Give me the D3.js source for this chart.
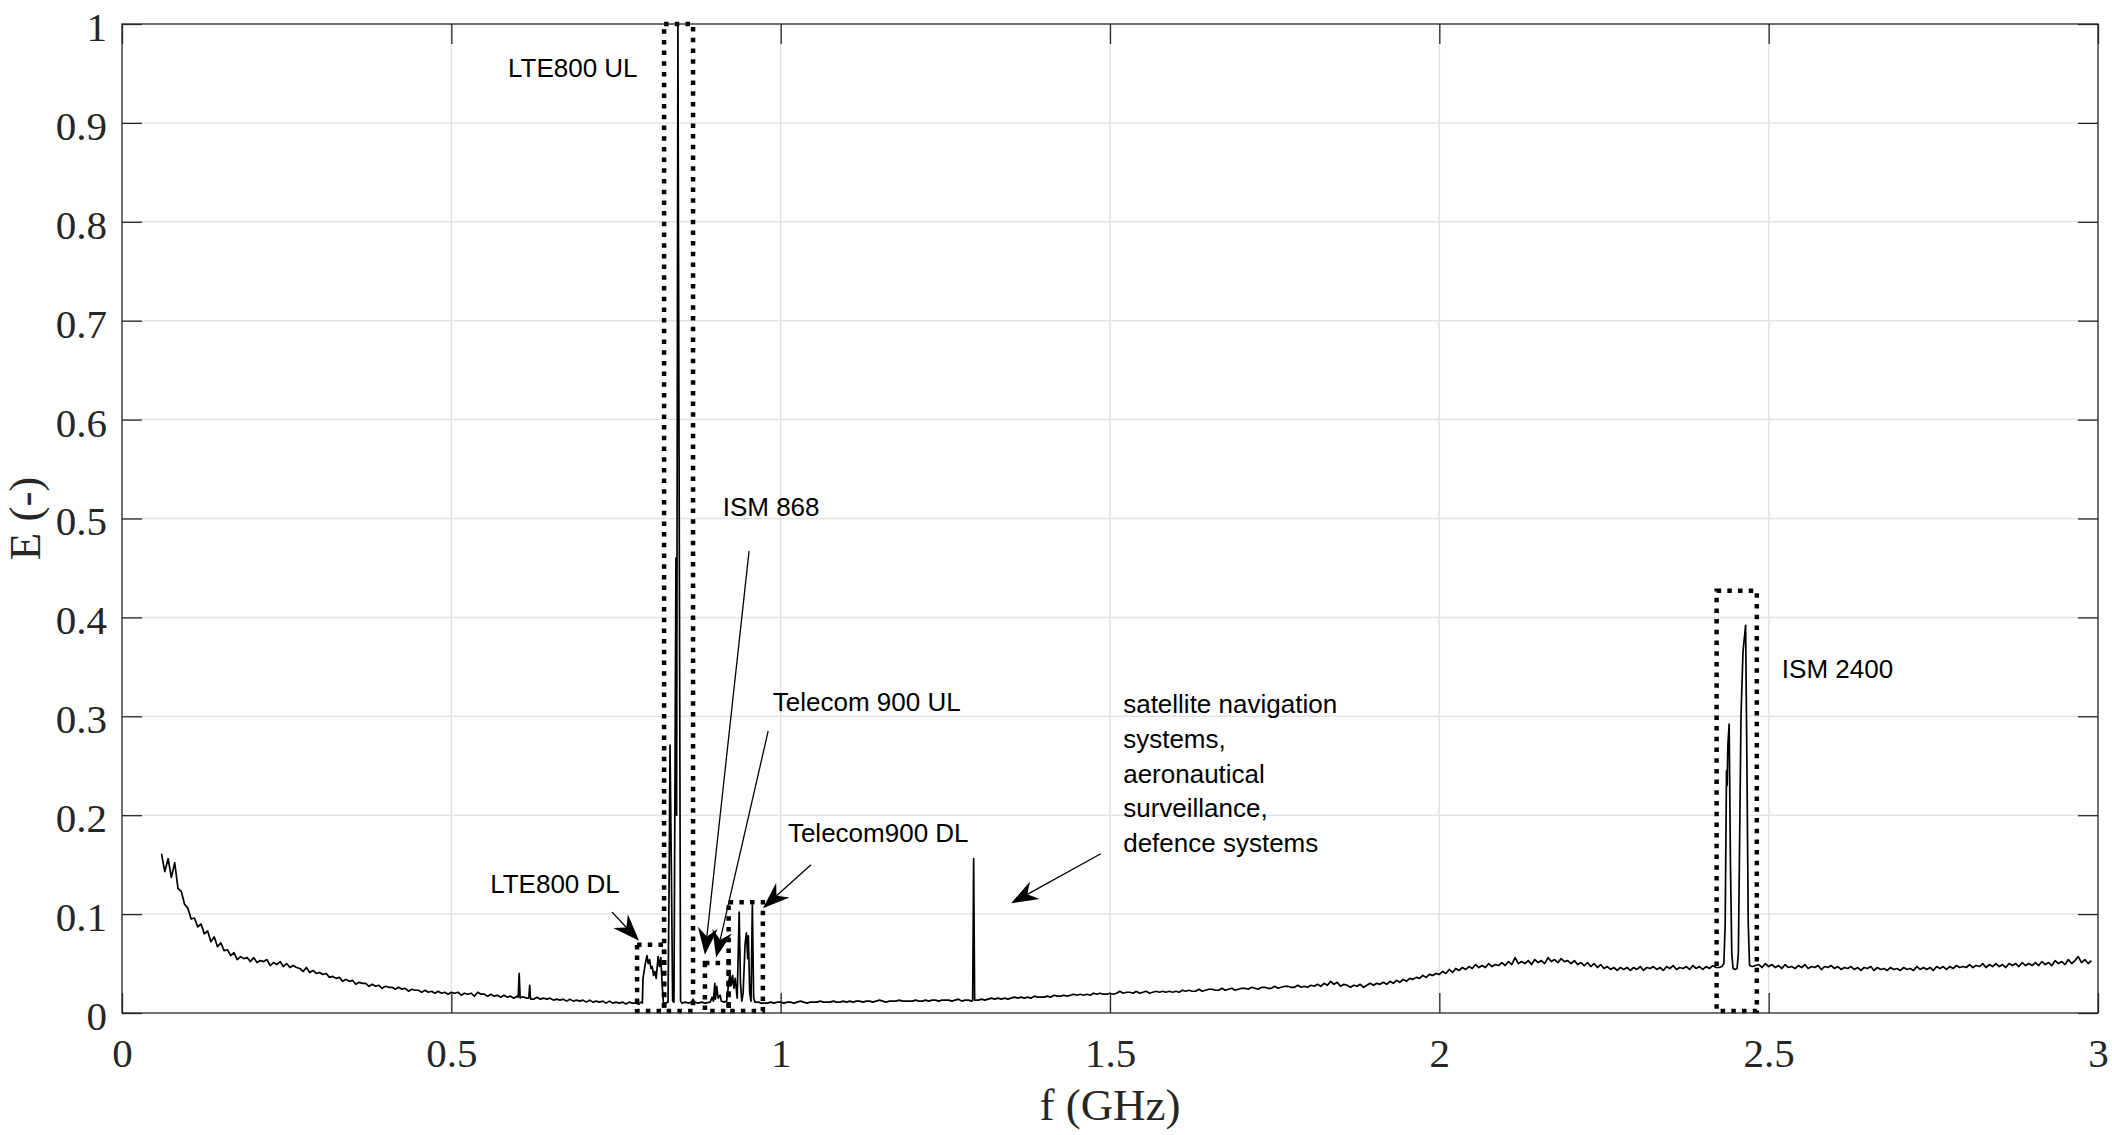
<!DOCTYPE html>
<html>
<head>
<meta charset="utf-8">
<script src="https://cdn.jsdelivr.net/npm/d3@7"></script>
<style>
  body { margin: 0; background: #fff; }
  .tick text { font-family: "Liberation Serif", "Times New Roman", serif; font-size: 41px; fill: #262626; }
  .ann { font-family: "Liberation Sans", Arial, sans-serif; font-size: 26px; fill: #000; }
</style>
</head>
<body>
<div id="chart"></div>
<script>
// tick values
const xTicks = [0, 0.5, 1, 1.5, 2, 2.5, 3];
const yTicks = [0, 0.1, 0.2, 0.3, 0.4, 0.5, 0.6, 0.7, 0.8, 0.9, 1];

// baseline segments, step 0.005 GHz
const stepF = 0.005;
const startA = 0.060;
const baseA = [
  0.161, 0.143, 0.156, 0.137, 0.152, 0.126, 0.123, 0.110,
  0.106, 0.095, 0.096, 0.087, 0.090, 0.080, 0.083, 0.072, 0.077, 0.067, 0.071, 0.063, 0.064, 0.058, 0.061, 0.054, 0.057, 0.055, 0.056, 0.052,
  0.056, 0.051, 0.053, 0.052, 0.054, 0.048, 0.051, 0.049, 0.052, 0.047, 0.050, 0.046, 0.048, 0.046, 0.045, 0.042, 0.046, 0.041, 0.043, 0.040, 0.041, 0.039,
  0.040, 0.036, 0.037, 0.035, 0.036, 0.032, 0.034, 0.032, 0.033, 0.029, 0.031, 0.030, 0.030, 0.027, 0.029, 0.027, 0.028, 0.025, 0.027, 0.026,
  0.026, 0.024, 0.026, 0.024, 0.025, 0.022, 0.024, 0.023, 0.023, 0.021, 0.023, 0.021, 0.022, 0.020, 0.022, 0.020, 0.021, 0.019, 0.021, 0.020,
  0.021, 0.018, 0.020, 0.019, 0.020, 0.017, 0.021, 0.019, 0.019, 0.017, 0.019, 0.017, 0.018, 0.016, 0.018, 0.016, 0.017, 0.015, 0.017, 0.016,
  0.016, 0.015, 0.016, 0.014, 0.016, 0.014, 0.015, 0.014, 0.015, 0.013, 0.014, 0.013, 0.014, 0.012, 0.014, 0.012, 0.013, 0.012, 0.013, 0.011,
  0.013, 0.011, 0.012, 0.011, 0.012, 0.010, 0.012, 0.010, 0.011, 0.010, 0.011, 0.009, 0.011, 0.010, 0.010, 0.009, 0.010
];
const startB = 0.980;
const baseB = [
  0.010, 0.011, 0.010, 0.011,
  0.011, 0.010, 0.011, 0.011, 0.010, 0.011, 0.012, 0.011, 0.010, 0.011, 0.011, 0.011, 0.012, 0.011, 0.011, 0.011, 0.012, 0.011, 0.011, 0.012,
  0.011, 0.012, 0.011, 0.012, 0.012, 0.011, 0.012, 0.012, 0.011, 0.012, 0.013, 0.012, 0.011, 0.012, 0.012, 0.012, 0.013, 0.012, 0.012, 0.012,
  0.012, 0.013, 0.012, 0.012, 0.013, 0.012, 0.013, 0.013, 0.012, 0.013, 0.013, 0.013, 0.012, 0.013, 0.014, 0.012, 0.013, 0.013, 0.012, 0.013,
  0.013, 0.014, 0.013, 0.014, 0.015, 0.014, 0.015, 0.014, 0.015, 0.014, 0.015, 0.016, 0.015, 0.016, 0.015, 0.016, 0.015, 0.017, 0.016, 0.016,
  0.016, 0.017, 0.016, 0.018, 0.017, 0.017, 0.018, 0.017, 0.018, 0.019, 0.018, 0.019, 0.018, 0.019, 0.018, 0.020, 0.019, 0.020, 0.019, 0.019,
  0.020, 0.019, 0.020, 0.022, 0.020, 0.021, 0.021, 0.020, 0.022, 0.020, 0.021, 0.022, 0.020, 0.021, 0.022, 0.021, 0.022, 0.021, 0.022, 0.021,
  0.022, 0.021, 0.023, 0.022, 0.023, 0.022, 0.022, 0.024, 0.022, 0.023, 0.024, 0.024, 0.023, 0.023, 0.025, 0.023, 0.024, 0.025, 0.023, 0.024,
  0.025, 0.025, 0.024, 0.026, 0.025, 0.024, 0.026, 0.026, 0.025, 0.025, 0.027, 0.025, 0.026, 0.027, 0.027, 0.026, 0.026, 0.028, 0.026, 0.027,
  0.026, 0.028, 0.027, 0.029, 0.027, 0.030, 0.028, 0.032, 0.029, 0.031, 0.027, 0.029, 0.028, 0.026, 0.028, 0.027, 0.029, 0.026, 0.028, 0.030,
  0.028, 0.030, 0.029, 0.031, 0.029, 0.032, 0.030, 0.033, 0.031, 0.034, 0.032, 0.035, 0.034, 0.036, 0.035, 0.038, 0.036, 0.039, 0.038, 0.040,
  0.039, 0.042, 0.040, 0.044, 0.041, 0.045, 0.043, 0.046, 0.044, 0.047, 0.045, 0.049, 0.046, 0.048, 0.046, 0.050, 0.047, 0.049, 0.048, 0.051,
  0.048, 0.052, 0.049, 0.056, 0.050, 0.052, 0.050, 0.053, 0.049, 0.054, 0.051, 0.053, 0.050, 0.056, 0.052, 0.054, 0.051, 0.055, 0.052, 0.053,
  0.050, 0.053, 0.049, 0.051, 0.048, 0.051, 0.047, 0.050, 0.046, 0.049, 0.045, 0.047, 0.044, 0.046, 0.043, 0.046, 0.044, 0.046, 0.043, 0.046,
  0.044, 0.047, 0.043, 0.046, 0.045, 0.047, 0.044, 0.046, 0.043, 0.047, 0.045, 0.048, 0.044, 0.046, 0.045, 0.047, 0.044, 0.048, 0.045, 0.047,
  0.044, 0.047, 0.045, 0.048, 0.046
];
const startC = 2.485;
const baseC = [
  0.049, 0.046, 0.050,
  0.047, 0.049, 0.046, 0.048, 0.045, 0.049, 0.046, 0.047, 0.045, 0.048, 0.046, 0.049, 0.045, 0.047, 0.046, 0.048, 0.044, 0.047, 0.046, 0.048,
  0.045, 0.047, 0.044, 0.046, 0.045, 0.047, 0.044, 0.046, 0.043, 0.046, 0.045, 0.047, 0.043, 0.046, 0.044, 0.045, 0.043, 0.046, 0.044, 0.045,
  0.043, 0.046, 0.044, 0.045, 0.043, 0.047, 0.044, 0.046, 0.044, 0.046, 0.043, 0.047, 0.045, 0.047, 0.044, 0.047, 0.045, 0.048, 0.046, 0.047,
  0.046, 0.049, 0.046, 0.048, 0.047, 0.050, 0.046, 0.049, 0.047, 0.050, 0.047, 0.049, 0.046, 0.050, 0.048, 0.050, 0.047, 0.051, 0.048, 0.050,
  0.048, 0.051, 0.048, 0.052, 0.049, 0.051, 0.048, 0.053, 0.050, 0.052, 0.049, 0.054, 0.050, 0.053, 0.057, 0.051, 0.054, 0.050, 0.053
];

// narrow spikes [f, E]
const spikes = [
  [0.6015, 0.016], [0.603, 0.040], [0.6045, 0.015],
  [0.6175, 0.015], [0.619, 0.028], [0.6205, 0.014],
  [1.2915, 0.013], [1.293, 0.156], [1.2945, 0.013]
];

// 790-975 MHz bands [f, E]
const band900 = [
  [0.785, 0.010], [0.789, 0.011], [0.791, 0.035], [0.794, 0.048], [0.797, 0.058], [0.799, 0.050],
  [0.801, 0.054], [0.803, 0.045], [0.805, 0.047], [0.807, 0.038], [0.809, 0.042], [0.811, 0.035],
  [0.813, 0.050], [0.814, 0.057], [0.816, 0.047], [0.818, 0.056], [0.820, 0.030], [0.822, 0.010],
  [0.825, 0.010], [0.829, 0.011], [0.831, 0.160], [0.832, 0.271], [0.834, 0.150], [0.836, 0.012],
  [0.838, 0.011], [0.840, 0.300], [0.841, 0.460], [0.842, 0.200], [0.843, 0.600], [0.844, 1.000],
  [0.846, 0.500], [0.848, 0.012], [0.850, 0.010], [0.855, 0.011], [0.860, 0.010], [0.865, 0.011],
  [0.867, 0.014], [0.869, 0.011], [0.875, 0.010], [0.880, 0.011], [0.885, 0.010], [0.893, 0.011],
  [0.896, 0.016], [0.898, 0.012], [0.900, 0.030], [0.901, 0.014], [0.903, 0.027], [0.905, 0.015],
  [0.908, 0.018], [0.910, 0.012], [0.914, 0.011], [0.918, 0.012], [0.921, 0.030], [0.923, 0.040],
  [0.925, 0.028], [0.927, 0.038], [0.929, 0.025], [0.931, 0.035], [0.934, 0.015], [0.937, 0.102],
  [0.939, 0.030], [0.941, 0.012], [0.943, 0.020], [0.946, 0.070], [0.948, 0.081], [0.950, 0.055],
  [0.951, 0.078], [0.953, 0.020], [0.955, 0.012], [0.957, 0.109], [0.959, 0.015], [0.961, 0.011],
  [0.966, 0.011], [0.971, 0.010], [0.975, 0.010]
];

// 2.4 GHz band [f, E]
const band2400 = [
  [2.425, 0.046], [2.429, 0.047], [2.432, 0.050], [2.434, 0.090], [2.436, 0.245], [2.437, 0.230],
  [2.438, 0.270], [2.440, 0.292], [2.442, 0.150], [2.444, 0.060], [2.446, 0.045], [2.449, 0.044],
  [2.452, 0.045], [2.454, 0.060], [2.456, 0.180], [2.458, 0.300], [2.461, 0.365], [2.462, 0.372],
  [2.465, 0.392], [2.467, 0.250], [2.469, 0.090], [2.471, 0.048], [2.475, 0.047], [2.480, 0.048]
];

// dotted boxes [f0, f1, Etop]
const boxes = [
  [0.782, 0.823, 0.069],
  [0.823, 0.867, 1.0],
  [0.885, 0.921, 0.0505],
  [0.921, 0.973, 0.112],
  [2.421, 2.482, 0.427]
];

// labels [f, E, lines]
const labels = [
  [0.586, 0.946, ['LTE800 UL']],
  [0.912, 0.503, ['ISM 868']],
  [0.988, 0.305, ['Telecom 900 UL']],
  [1.011, 0.173, ['Telecom900 DL']],
  [0.559, 0.121, ['LTE800 DL']],
  [1.520, 0.303, ['satellite navigation', 'systems,', 'aeronautical', 'surveillance,', 'defence systems']],
  [2.520, 0.339, ['ISM 2400']]
];

// arrows [fTail, ETail, fTip, ETip]
const arrows = [
  [0.744, 0.102, 0.785, 0.073],
  [0.952, 0.467, 0.885, 0.059],
  [0.981, 0.285, 0.902, 0.056],
  [1.046, 0.150, 0.973, 0.106],
  [1.486, 0.161, 1.350, 0.111]
];

const W = 2112, H = 1135;
const margin = ({top: 24, right: 14, bottom: 122, left: 122});
const width = W - margin.left - margin.right;
const height = H - margin.top - margin.bottom;

const svg = d3.select('#chart')
    .append('svg')
    .attr('width', W)
    .attr('height', H)
    .append('g')
    .attr('transform', 'translate(' + margin.left + ',' + margin.top + ')');

const xScale = d3.scaleLinear().domain([0, 3]).range([0, width]);
const yScale = d3.scaleLinear().domain([0, 1]).range([height, 0]);

// grid
svg.append('g').selectAll('line').data(xTicks.slice(1, -1)).join('line')
    .attr('x1', d => xScale(d)).attr('x2', d => xScale(d))
    .attr('y1', 0).attr('y2', height)
    .attr('stroke', '#e3e3e3').attr('stroke-width', 1.5);
svg.append('g').selectAll('line').data(yTicks.slice(1, -1)).join('line')
    .attr('x1', 0).attr('x2', width)
    .attr('y1', d => yScale(d)).attr('y2', d => yScale(d))
    .attr('stroke', '#e3e3e3').attr('stroke-width', 1.5);

// assemble the series
const series = [];
baseA.forEach((v, i) => series.push([startA + i * stepF, v]));
baseB.forEach((v, i) => series.push([startB + i * stepF, v]));
baseC.forEach((v, i) => series.push([startC + i * stepF, v]));
spikes.concat(band900, band2400).forEach(p => series.push(p));
series.sort((a, b) => a[0] - b[0]);

const line = d3.line()
    .x(d => xScale(d[0]))
    .y(d => yScale(d[1]));

svg.append('path')
    .datum(series)
    .attr('fill', 'none')
    .attr('stroke', '#000')
    .attr('stroke-width', 1.7)
    .attr('stroke-linejoin', 'round')
    .attr('d', line);

// dotted boxes
svg.append('g').selectAll('rect').data(boxes).join('rect')
    .attr('x', d => xScale(d[0]))
    .attr('width', d => xScale(d[1]) - xScale(d[0]))
    .attr('y', d => yScale(d[2]))
    .attr('height', d => yScale(0.002) - yScale(d[2]))
    .attr('fill', 'none')
    .attr('stroke', '#000')
    .attr('stroke-width', 4.5)
    .attr('stroke-dasharray', '4.5 6.2');

// arrows
const arr = svg.append('g');
arrows.forEach(a => {
    const x0 = xScale(a[0]), y0 = yScale(a[1]), x1 = xScale(a[2]), y1 = yScale(a[3]);
    const len = Math.hypot(x1 - x0, y1 - y0);
    const ux = (x1 - x0) / len, uy = (y1 - y0) / len;
    const L = 27, Wd = 10;
    const bx = x1 - ux * L, by = y1 - uy * L;
    const nx = x1 - ux * L * 0.68, ny = y1 - uy * L * 0.68;
    arr.append('line')
        .attr('x1', x0).attr('y1', y0).attr('x2', nx).attr('y2', ny)
        .attr('stroke', '#000').attr('stroke-width', 1.3);
    arr.append('path')
        .attr('d', 'M' + x1 + ',' + y1 +
            'L' + (bx - uy * Wd) + ',' + (by + ux * Wd) +
            'L' + nx + ',' + ny +
            'L' + (bx + uy * Wd) + ',' + (by - ux * Wd) + 'Z')
        .attr('fill', '#000');
});

// labels
labels.forEach(l => {
    const t = svg.append('text')
        .attr('class', 'ann')
        .attr('x', xScale(l[0]))
        .attr('y', yScale(l[1]));
    l[2].forEach((s, i) => {
        t.append('tspan')
            .attr('x', xScale(l[0]))
            .attr('dy', i === 0 ? 0 : 34.7)
            .text(s);
    });
});

// axes (ticks inside, box on all sides)
const xAxis = d3.axisBottom(xScale).tickValues(xTicks).tickSize(-20).tickPadding(25).tickFormat(d3.format('~g'));
const yAxis = d3.axisLeft(yScale).tickValues(yTicks).tickSize(-20).tickPadding(15).tickFormat(d3.format('~g'));
const xAxisTop = d3.axisTop(xScale).tickValues(xTicks).tickSize(-20).tickFormat('');
const yAxisRight = d3.axisRight(yScale).tickValues(yTicks).tickSize(-20).tickFormat('');

svg.append('g')
    .attr('class', 'axis x-axis')
    .attr('transform', 'translate(0,' + height + ')')
    .call(xAxis);
svg.append('g')
    .attr('class', 'axis y-axis')
    .call(yAxis);
svg.append('g').attr('class', 'axis').call(xAxisTop);
svg.append('g').attr('class', 'axis').attr('transform', 'translate(' + width + ',0)').call(yAxisRight);

svg.selectAll('.axis .domain').remove();
svg.selectAll('.axis .tick line').attr('stroke', '#262626').attr('stroke-width', 1.3);
svg.selectAll('.y-axis .tick text').attr('dy', '0.4em');

svg.append('rect')
    .attr('width', width)
    .attr('height', height)
    .attr('fill', 'none')
    .attr('stroke', '#262626')
    .attr('stroke-width', 1.3);

// axis titles
svg.append('text')
    .attr('x', width / 2)
    .attr('y', height + 107)
    .attr('text-anchor', 'middle')
    .style('font-family', '"Liberation Serif", "Times New Roman", serif')
    .style('font-size', '45px')
    .attr('fill', '#262626')
    .text('f (GHz)');

svg.append('text')
    .attr('transform', 'translate(' + (40 - margin.left) + ',' + (height / 2) + ') rotate(-90)')
    .attr('text-anchor', 'middle')
    .style('font-family', '"Liberation Serif", "Times New Roman", serif')
    .style('font-size', '45px')
    .attr('fill', '#262626')
    .text('E (-)');
</script>
</body>
</html>
